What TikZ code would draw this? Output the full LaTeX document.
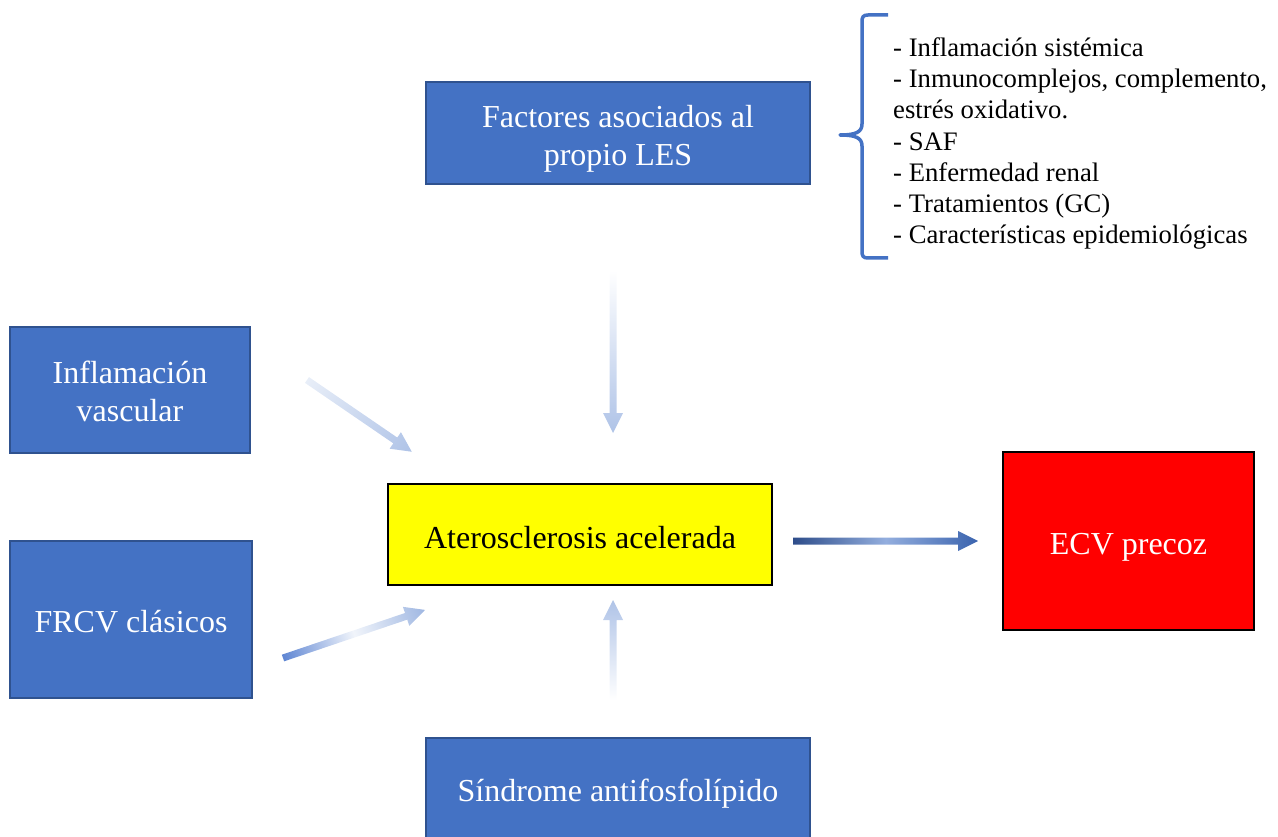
\documentclass[tikz,border=0pt]{standalone}
\usepackage{fontspec}
\setmainfont{Liberation Serif}
\usetikzlibrary{calc}
\definecolor{boxblue}{HTML}{4472C4}
\definecolor{boxedge}{HTML}{2F528F}
\definecolor{pureyellow}{RGB}{255,255,0}
\definecolor{purered}{RGB}{255,0,0}
\definecolor{arrowlight}{HTML}{AFC3E7}
\definecolor{arrowpale}{HTML}{E8EEF8}
\definecolor{arrowmid}{HTML}{5F86D3}
\definecolor{arrowdark}{HTML}{2E4D8A}
\definecolor{arrowshine}{HTML}{93AEDE}
\definecolor{arrowhead}{HTML}{3A63AE}
\tikzset{
  bluebox/.style={draw=boxedge, fill=boxblue, line width=1.6pt, inner sep=0pt},
  blackbox/.style={draw=black, line width=1.6pt, inner sep=0pt},
  boxtext/.style={font=\fontsize{32}{38}\selectfont, align=center, inner sep=0pt},
  bracestyle/.style={draw=boxblue, line width=3.5pt, line join=round},
  listtext/.style={font=\fontsize{26.7}{31.2}\selectfont, align=left, inner sep=0pt, text=black}
}
\newcommand{\shadedarrow}[4]{%
  \begin{scope}[transform canvas={shift={(#1)},rotate=#2}]
    \shade[#4] (0,-3.5) -- ({#3-20},-3.5) -- ({#3-20},-10) -- (#3,0) -- ({#3-20},10) -- ({#3-20},3.5) -- (0,3.5) -- cycle;
  \end{scope}}
\begin{document}
\begin{tikzpicture}[x=1pt,y=-1pt]
  \useasboundingbox (0,0) rectangle (1278,837);
  \clip (0,0) rectangle (1278,837);
  % boxes
  \node[bluebox, minimum width=384pt, minimum height=102pt] (fac) at (618,133) {};
  \node[boxtext, text=white] (factext) at ($(fac.center)+(0,6)$) {Factores asociados al\\propio LES};
  \node[bluebox, minimum width=240pt, minimum height=126pt] (infl) at (130,390) {};
  \node[boxtext, text=white] (infltext) at ($(infl.center)+(0,1)$) {Inflamación\\vascular};
  \node[bluebox, minimum width=242pt, minimum height=157pt] (frcv) at (131,619.5) {};
  \node[boxtext, text=white] (frcvtext) at ($(frcv.center)+(0,2)$) {FRCV clásicos};
  \node[bluebox, minimum width=384pt, minimum height=112pt] (saf) at (618,794) {};
  \node[boxtext, text=white] (saftext) at (618,793.5) {Síndrome antifosfolípido};
  \node[blackbox, fill=pureyellow, minimum width=384pt, minimum height=101pt] (ater) at (580,534.5) {};
  \node[boxtext, text=black] (atertext) at ($(ater.center)+(0,3)$) {Aterosclerosis acelerada};
  \node[blackbox, fill=purered, minimum width=251pt, minimum height=178pt] (ecv) at (1128.5,541) {};
  \node[boxtext, text=white] (ecvtext) at ($(ecv.center)+(0,6)$) {ECV precoz};
  % brace
  \coordinate (btop) at (888,15);
  \coordinate (bbot) at (888,258);
  \coordinate (btip) at (840,135);
  \draw[bracestyle] (btop) -- (868,15) .. controls (863,15) and (862,17) .. (862,22) -- (862,124)
    .. controls (862,132) and (856,135) .. (btip)
    .. controls (856,135) and (862,138) .. (862,146) -- (862,251)
    .. controls (862,256) and (863,258) .. (868,258) -- (bbot);
  \node[listtext, anchor=west] (list) at (893,143.5) {- Inflamación sistémica\\- Inmunocomplejos, complemento,\\estrés oxidativo.\\- SAF\\- Enfermedad renal\\- Tratamientos (GC)\\- Características epidemiológicas};
  % arrow anchors
  \coordinate (a1) at (613,270);
  \coordinate (a2) at (307,380);
  \coordinate (a3) at (283,658);
  \coordinate (a4) at (613,700);
  \coordinate (a5) at (793,541);
  \shadedarrow{a1}{-90}{163}{left color=white, right color=arrowlight}
  \shadedarrow{a2}{-34.4}{127}{left color=arrowpale, right color=arrowlight}
  \shadedarrow{a3}{18.7}{150}{left color=arrowmid, right color=arrowlight!85!boxblue, middle color=arrowpale!60!white}
  \shadedarrow{a4}{90}{100}{left color=white, right color=arrowlight}
  \shadedarrow{a5}{0}{185}{left color=arrowdark, right color=arrowhead, middle color=arrowshine}
\end{tikzpicture}
\end{document}
